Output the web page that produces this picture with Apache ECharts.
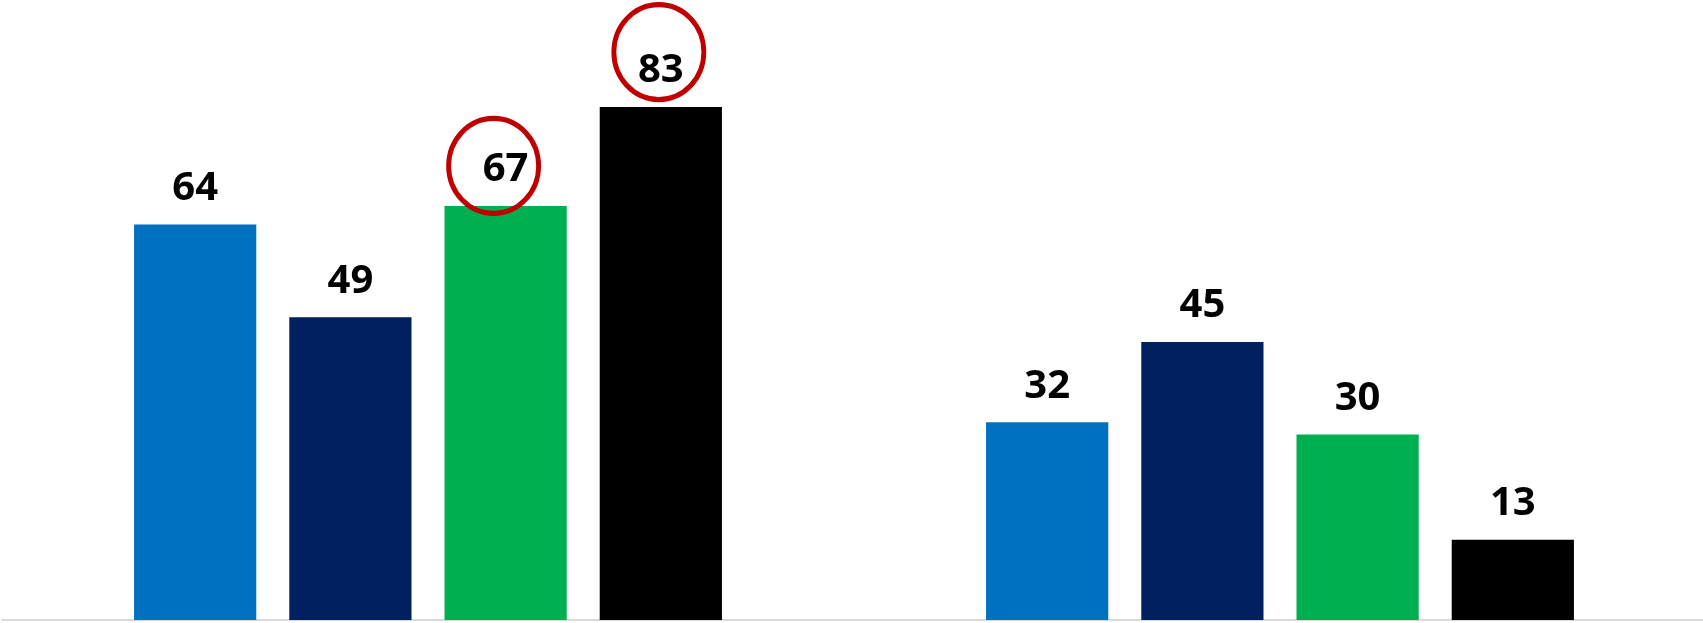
<!DOCTYPE html>
<html>
<head>
<meta charset="utf-8">
<script src="https://cdn.jsdelivr.net/npm/echarts@6/dist/echarts.min.js"></script>
<style>
html,body{margin:0;padding:0;background:#fff;overflow:hidden;}
#chart{width:1706px;height:623px;}
</style>
</head>
<body>
<div id="chart"></div>
<script>
// ---- data ----
const categories = ['Group 1', 'Group 2'];
const seriesNames = ['Series 1', 'Series 2', 'Series 3', 'Series 4'];
const series1 = [64, 32];
const series2 = [49, 45];
const series3 = [67, 30];
const series4 = [83, 13];
const colors = ['#0070C0', '#002060', '#00B050', '#000000'];
// highlighted (circled) values: [seriesIndex, categoryIndex, offsetX, offsetY]
const highlights = [[2, 0, -12, -40], [3, 0, -2, -55]];

const allValues = [series1, series2, series3, series4];

const chart = echarts.init(document.getElementById('chart'));
const series = allValues.map((vals, si) => {
  const marks = highlights.filter(h => h[0] === si).map(h => ({
    coord: [categories[h[1]], vals[h[1]]],
    symbol: 'circle',
    symbolSize: [90, 95],
    symbolOffset: [h[2], h[3]],
    itemStyle: { color: 'rgba(0,0,0,0)', borderColor: '#C00000', borderWidth: 5 },
    label: { show: false }
  }));
  return {
    name: seriesNames[si],
    type: 'bar',
    data: vals,
    barGap: '27%',
    barCategoryGap: '31%',
    itemStyle: { color: colors[si] },
    label: {
      show: true,
      position: 'top',
      distance: 16,
      color: '#000',
      fontFamily: '"Open Sans", sans-serif',
      fontWeight: 700,
      fontSize: 40
    },
    markPoint: marks.length ? { silent: true, animation: false, data: marks } : undefined,
    animation: false
  };
});

chart.setOption({
  animation: false,
  grid: { left: 2, right: 0, top: 2, bottom: 3, containLabel: false },
  xAxis: {
    type: 'category',
    data: categories,
    axisLine: { show: true, lineStyle: { color: '#D9D9D9', width: 2 } },
    axisTick: { show: false },
    axisLabel: { show: false }
  },
  yAxis: {
    type: 'value',
    min: 0,
    max: 100,
    show: false,
    splitLine: { show: false }
  },
  series: series
});
</script>
</body>
</html>
